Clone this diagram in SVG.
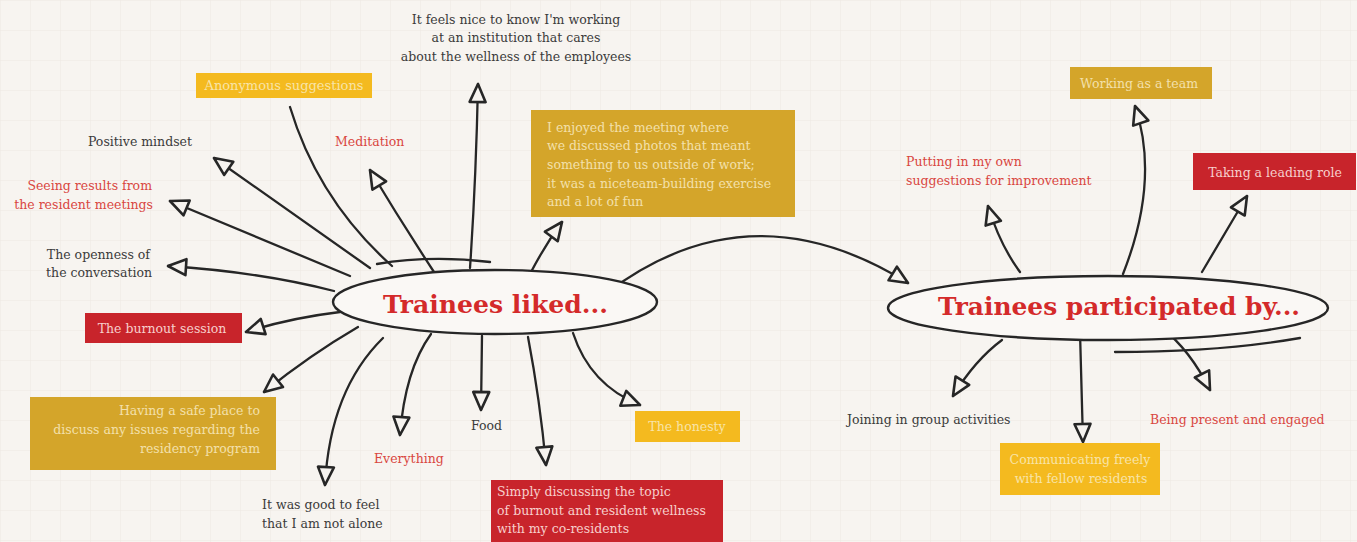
<svg xmlns="http://www.w3.org/2000/svg" width="1357" height="542" viewBox="0 0 1357 542">
<style>
.t{font-family:"DejaVu Serif","Liberation Serif",serif;font-size:12.5px;fill:#3b3b3b}
.r{fill:#d9463f}
.lt{fill:#f8e4a8}
.lm{fill:#f3e0ab}
.lr{fill:#f7cfcc}
.big{font-size:13px}
.title{font-family:"DejaVu Serif","Liberation Serif",serif;font-weight:bold;font-size:24px;fill:#d42a2a}
.c{fill:none;stroke:#262626;stroke-width:2.3;stroke-linecap:round}
.e{fill:#faf8f5;stroke:#262626;stroke-width:2.4}
.yb{fill:#f4ba1f}
.mb{fill:#d4a52a}
.rb{fill:#c8242b}
</style>
<defs>
<pattern id="grid" width="30" height="30" patternUnits="userSpaceOnUse">
<path d="M30 0 L0 0 0 30" fill="none" stroke="#ede8e2" stroke-width="1"/>
</pattern>
<marker id="ah" viewBox="0 0 22 22" refX="20" refY="11" markerWidth="22" markerHeight="22" markerUnits="userSpaceOnUse" orient="auto">
<path d="M2,3 L20,11 L2,19 Z" fill="#f6f3ef" stroke="#262626" stroke-width="2.6" stroke-linejoin="round"/>
</marker>
</defs>
<rect width="1357" height="542" fill="#f7f4f0"/>
<rect width="1357" height="542" fill="url(#grid)"/>

<g id="connectors">
<path class="c" d="M392,266 Q318,200 290,107"/>
<path class="c" d="M370,268 L214,158" marker-end="url(#ah)"/>
<path class="c" d="M350,276 L170,201" marker-end="url(#ah)"/>
<path class="c" d="M334,291 Q260,272 168,266" marker-end="url(#ah)"/>
<path class="c" d="M340,312 Q290,318 246,332" marker-end="url(#ah)"/>
<path class="c" d="M358,327 Q310,355 264,392" marker-end="url(#ah)"/>
<path class="c" d="M383,338 Q330,390 325,485" marker-end="url(#ah)"/>
<path class="c" d="M431,334 Q405,370 400,435" marker-end="url(#ah)"/>
<path class="c" d="M482,336 L481,410" marker-end="url(#ah)"/>
<path class="c" d="M528,337 Q540,400 546,465" marker-end="url(#ah)"/>
<path class="c" d="M573,333 Q590,385 640,405" marker-end="url(#ah)"/>
<path class="c" d="M530,274 Q545,245 562,222" marker-end="url(#ah)"/>
<path class="c" d="M470,268 Q476,180 478,84" marker-end="url(#ah)"/>
<path class="c" d="M434,272 Q400,220 370,170" marker-end="url(#ah)"/>
<path class="c" d="M608,292 Q750,185 908,283" marker-end="url(#ah)"/>
<path class="c" d="M1020,272 Q1000,245 988,206" marker-end="url(#ah)"/>
<path class="c" d="M1123,274 Q1160,180 1135,106" marker-end="url(#ah)"/>
<path class="c" d="M1202,272 L1247,196" marker-end="url(#ah)"/>
<path class="c" d="M1002,340 Q975,360 953,396" marker-end="url(#ah)"/>
<path class="c" d="M1080,332 L1083,442" marker-end="url(#ah)"/>
<path class="c" d="M1162,328 Q1190,350 1210,390" marker-end="url(#ah)"/>
</g>

<g id="liked">
<ellipse class="e" cx="495" cy="302" rx="162" ry="32"/>
<path class="c" d="M377,264 Q430,255 490,262"/>
<text class="title" x="383" y="313" textLength="225" lengthAdjust="spacingAndGlyphs">Trainees liked...</text>
</g>

<g id="participated">
<ellipse class="e" cx="1108" cy="308" rx="220" ry="32"/>
<path class="c" d="M1115,352 Q1220,352 1300,338"/>
<text class="title" x="938" y="315" textLength="362" lengthAdjust="spacingAndGlyphs">Trainees participated by...</text>
</g>

<g id="n-feels-nice">
<text class="t" x="516" y="24" text-anchor="middle">It feels nice to know I'm working</text>
<text class="t" x="516" y="42" text-anchor="middle">at an institution that cares</text>
<text class="t" x="516" y="61" text-anchor="middle">about the wellness of the employees</text>
</g>

<g id="n-anonymous">
<rect class="yb" x="196" y="73" width="176" height="25"/>
<text class="t lt big" x="284" y="90" text-anchor="middle">Anonymous suggestions</text>
</g>

<g id="n-positive">
<text class="t" x="192" y="146" text-anchor="end">Positive mindset</text>
</g>

<g id="n-meditation">
<text class="t r" x="335" y="146">Meditation</text>
</g>

<g id="n-seeing">
<text class="t r" x="152" y="190" text-anchor="end">Seeing results from</text>
<text class="t r" x="153" y="209" text-anchor="end">the resident meetings</text>
</g>

<g id="n-openness">
<text class="t" x="150" y="259" text-anchor="end">The openness of</text>
<text class="t" x="152" y="277" text-anchor="end">the conversation</text>
</g>

<g id="n-burnout">
<rect class="rb" x="85" y="313" width="157" height="30"/>
<text class="t lr" x="162" y="333" text-anchor="middle">The burnout session</text>
</g>

<g id="n-safe">
<rect class="mb" x="30" y="397" width="246" height="73"/>
<text class="t lm" x="260" y="415" text-anchor="end">Having a safe place to</text>
<text class="t lm" x="260" y="434" text-anchor="end">discuss any issues regarding the</text>
<text class="t lm" x="260" y="453" text-anchor="end">residency program</text>
</g>

<g id="n-alone">
<text class="t" x="262" y="509">It was good to feel</text>
<text class="t" x="262" y="528">that I am not alone</text>
</g>

<g id="n-everything">
<text class="t r" x="374" y="463">Everything</text>
</g>

<g id="n-food">
<text class="t" x="471" y="430">Food</text>
</g>

<g id="n-simply">
<rect class="rb" x="491" y="480" width="232" height="62"/>
<text class="t lr" x="497" y="496">Simply discussing the topic</text>
<text class="t lr" x="497" y="515">of burnout and resident wellness</text>
<text class="t lr" x="497" y="533">with my co-residents</text>
</g>

<g id="n-honesty">
<rect class="yb" x="635" y="411" width="105" height="31"/>
<text class="t lt" x="687" y="431" text-anchor="middle">The honesty</text>
</g>

<g id="n-enjoyed">
<rect class="mb" x="531" y="110" width="264" height="107"/>
<text class="t lm" x="547" y="132">I enjoyed the meeting where</text>
<text class="t lm" x="547" y="150">we discussed photos that meant</text>
<text class="t lm" x="547" y="169">something to us outside of work;</text>
<text class="t lm" x="547" y="188">it was a niceteam-building exercise</text>
<text class="t lm" x="547" y="206">and a lot of fun</text>
</g>

<g id="n-putting">
<text class="t r" x="906" y="166">Putting in my own</text>
<text class="t r" x="906" y="185">suggestions for improvement</text>
</g>

<g id="n-team">
<rect class="mb" x="1070" y="67" width="142" height="32"/>
<text class="t lm" x="1139" y="88" text-anchor="middle">Working as a team</text>
</g>

<g id="n-leading">
<rect class="rb" x="1193" y="153" width="163" height="37"/>
<text class="t lr" x="1275" y="177" text-anchor="middle">Taking a leading role</text>
</g>

<g id="n-joining">
<text class="t" x="847" y="424">Joining in group activities</text>
</g>

<g id="n-communicating">
<rect class="yb" x="1000" y="443" width="160" height="52"/>
<text class="t lt" x="1080" y="464" text-anchor="middle">Communicating freely</text>
<text class="t lt" x="1081" y="483" text-anchor="middle">with fellow residents</text>
</g>

<g id="n-present">
<text class="t r" x="1150" y="424">Being present and engaged</text>
</g>
</svg>
